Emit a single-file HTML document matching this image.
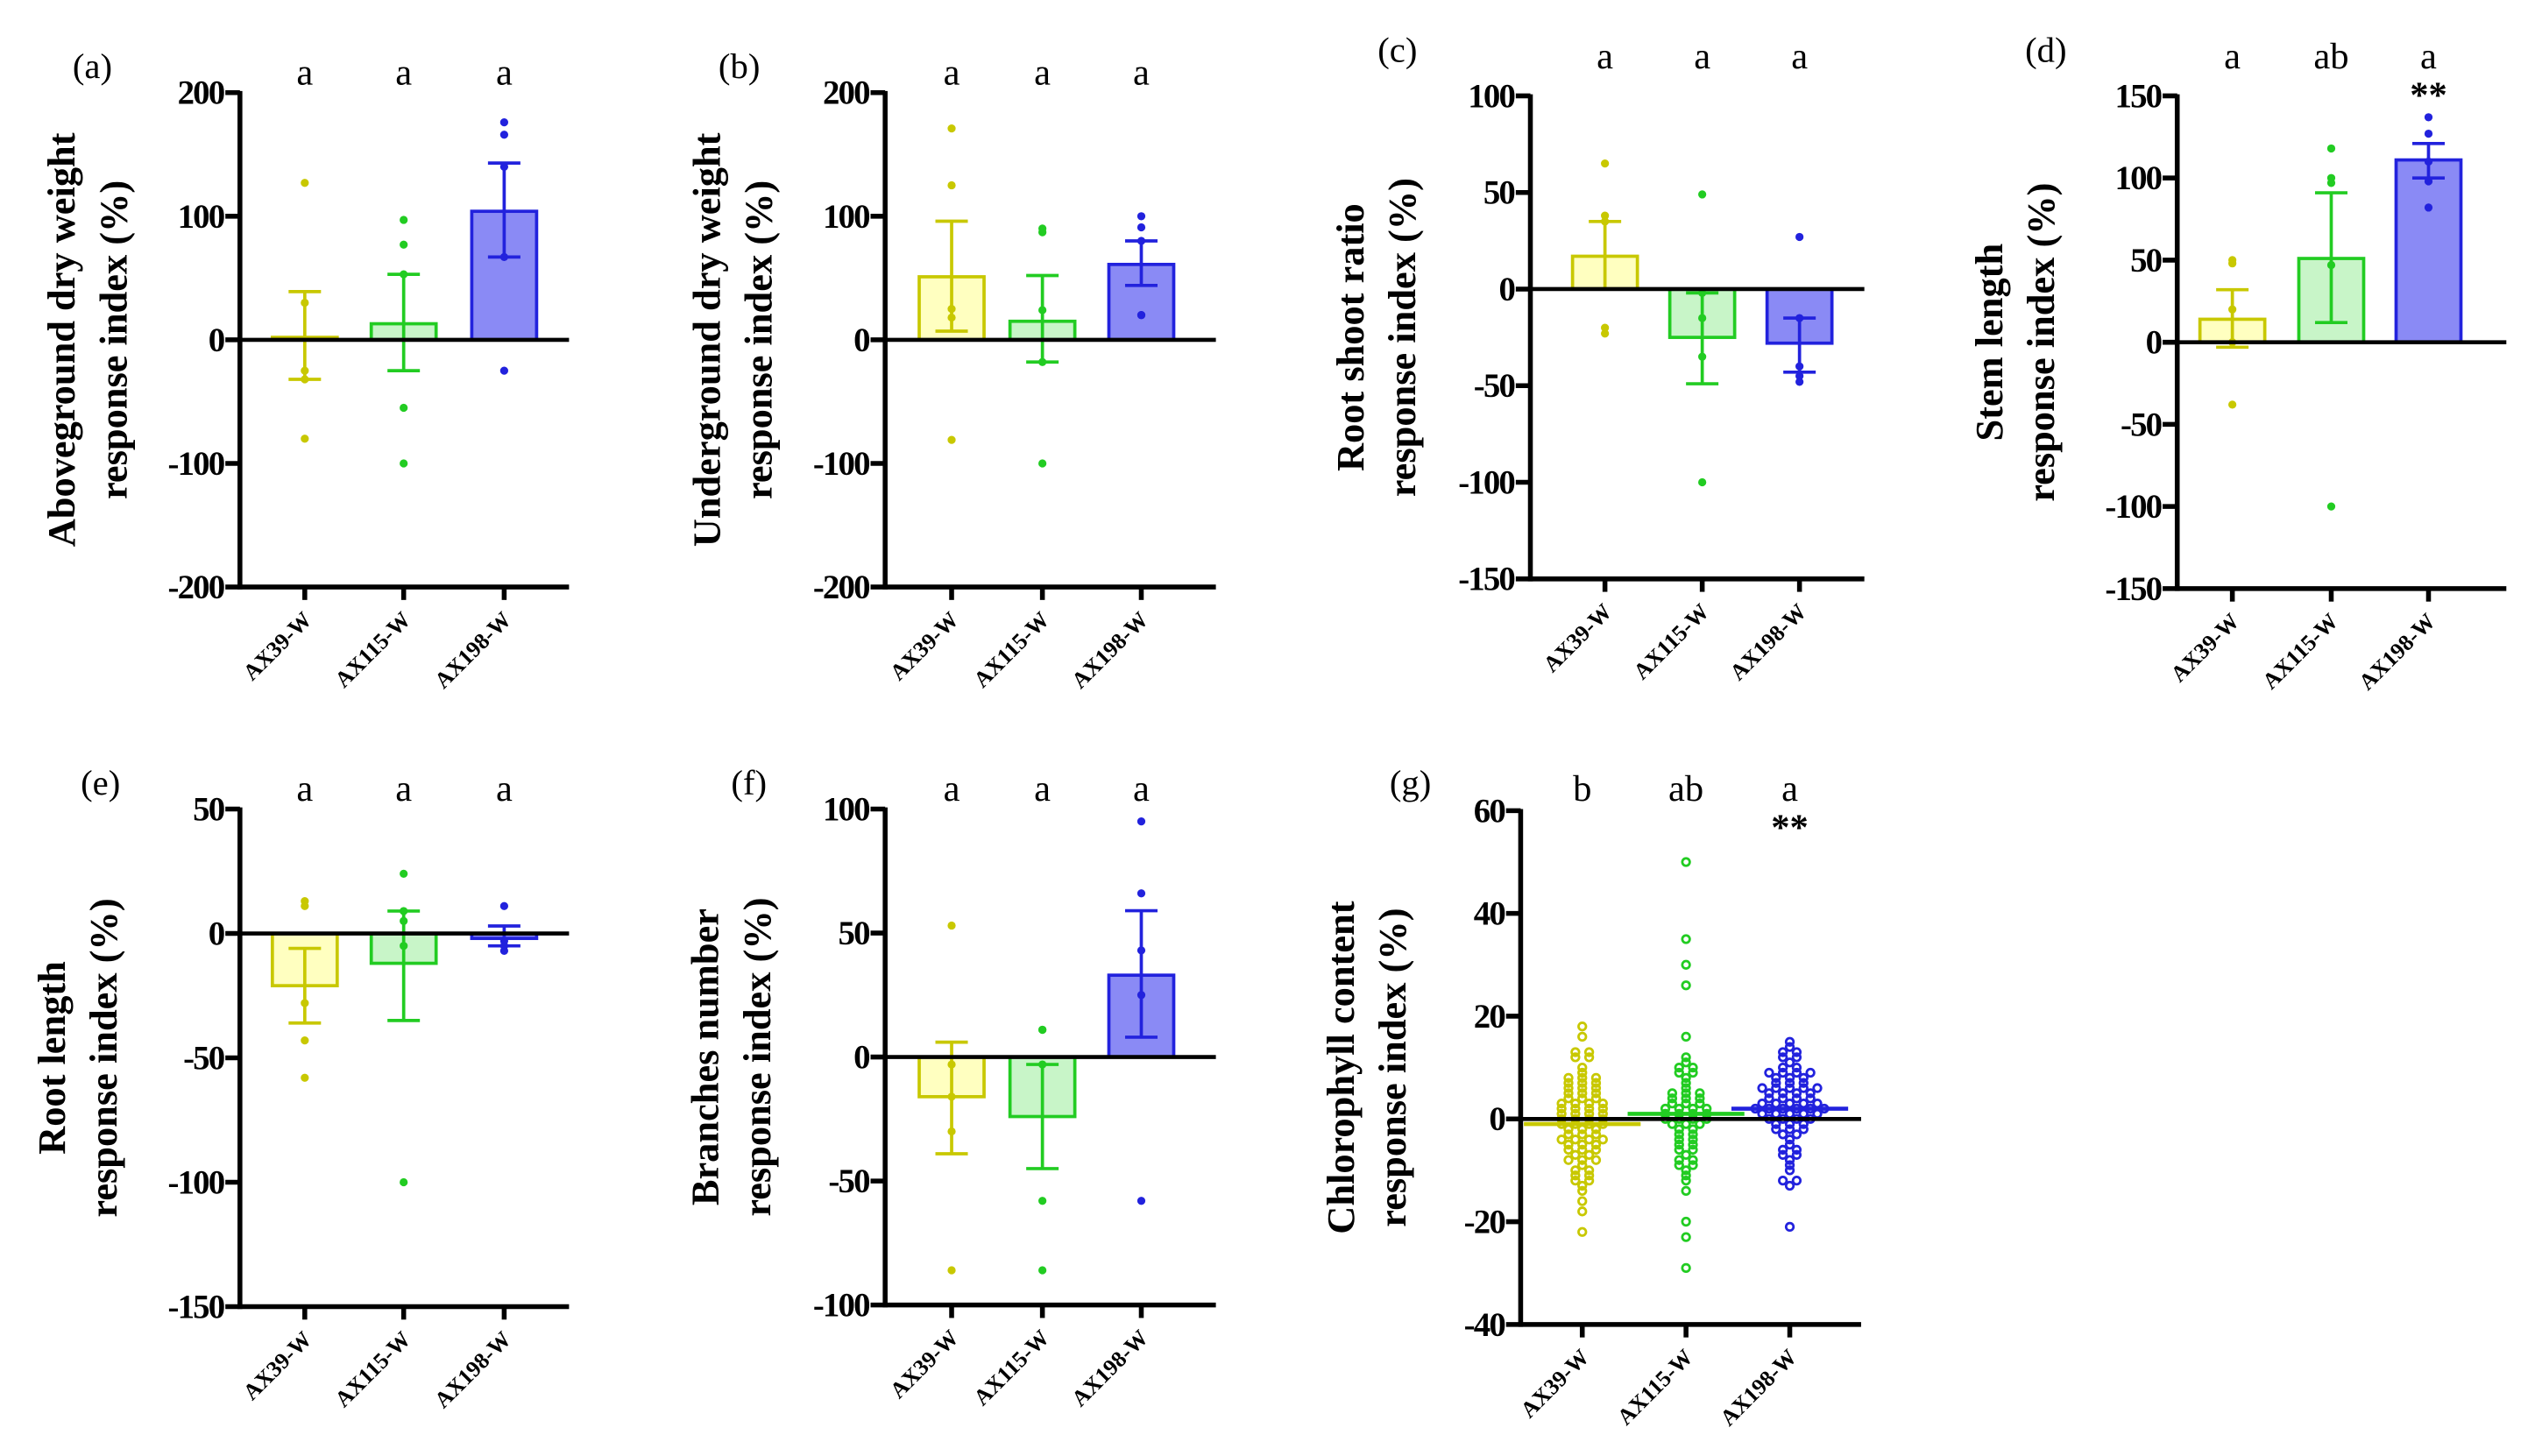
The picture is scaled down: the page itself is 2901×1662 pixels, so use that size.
<!DOCTYPE html>
<html><head><meta charset="utf-8"><style>
html,body{margin:0;padding:0;background:#fff}
svg{display:block}
text{font-family:"Liberation Serif",serif}
</style></head><body>
<svg id="fig" width="2901" height="1662" viewBox="0 0 1568 898" xmlns="http://www.w3.org/2000/svg"></svg>
<script>
const categories = ["AX39-W","AX115-W","AX198-W"];
// panel a
const aMeans=[2,13,104], aErrHi=[39,53,143], aErrLo=[-32,-25,67];
const aPts=[[127,30,-25,-32,-80],[97,77,53,-55,-100],[176,166,140,67,-25]];
const aLetters=["a","a","a"];
// panel b
const bMeans=[51,15,61], bErrHi=[96,52,80], bErrLo=[7,-18,44];
const bPts=[[171,125,25,18,-81],[90,87,24,-18,-100],[100,91,80,20,20]];
const bLetters=["a","a","a"];
// panel c
const cMeans=[17,-25,-28], cErrHi=[35,-2,-15], cErrLo=[0,-49,-43];
const cPts=[[65,38,35,-20,-23],[49,-2,-15,-35,-100],[27,-15,-40,-45,-48]];
const cLetters=["a","a","a"];
// panel d
const dMeans=[14,51,111], dErrHi=[32,91,121], dErrLo=[-3,12,100];
const dPts=[[50,48,20,0,-38],[118,100,97,47,-100],[137,127,110,98,82]];
const dLetters=["a","ab","a"];
// panel e
const eMeans=[-21,-12,-2], eErrHi=[-6,9,3], eErrLo=[-36,-35,-5];
const ePts=[[13,11,-28,-43,-58],[24,9,5,-5,-100],[11,-5,-7,-3]];
const eLetters=["a","a","a"];
// panel f
const fMeans=[-16,-24,33], fErrHi=[6,-3,59], fErrLo=[-39,-45,8];
const fPts=[[53,-3,-16,-30,-86],[11,11,-3,-58,-86],[95,66,43,25,-58]];
const fLetters=["a","a","a"];
// panel g
const gMeans=[-1,1,2];
const gPts=[
[18,16,13,13,12,12,10,9,8,8,8,7,7,7,6,6,6,5,5,5,4,4,4,3,3,3,3,2,2,2,2,1,1,1,1,0,0,0,0,-1,-1,-1,-1,-2,-2,-2,-3,-3,-3,-4,-4,-4,-4,-5,-5,-5,-6,-6,-6,-7,-7,-8,-8,-8,-9,-10,-10,-11,-11,-12,-12,-13,-14,-16,-18,-22],
[50,35,30,26,16,12,11,10,10,9,9,8,7,6,5,5,5,4,4,4,3,3,3,2,2,2,2,1,1,1,1,0,0,0,0,-1,-1,-1,-2,-2,-3,-3,-4,-4,-5,-5,-6,-6,-7,-8,-8,-9,-9,-10,-11,-12,-14,-20,-23,-29],
[15,14,13,13,12,12,11,10,10,9,9,9,9,8,8,8,7,7,7,6,6,6,6,6,5,5,5,5,4,4,4,4,3,3,3,3,3,2,2,2,2,2,2,1,1,1,1,1,0,0,0,0,-1,-1,-1,-2,-2,-2,-3,-3,-4,-5,-6,-6,-7,-7,-8,-9,-10,-12,-12,-13,-21]];
const gLetters=["b","ab","a"];

const NS="http://www.w3.org/2000/svg";
const svg=document.getElementById('fig');
const strokes=["#c8c800","#22cc22","#2222dd"], fills=["#ffffc0","#c8f5c8","#8a8af5"];
function mk(tag,attrs,parent,txt){const e=document.createElementNS(NS,tag);for(const k in attrs)e.setAttribute(k,attrs[k]);if(txt!==undefined)e.textContent=txt;(parent||svg).appendChild(e);return e;}

function panel(o){
  const g=mk('g',{});
  
  
  const y=v=>o.yTop+(o.ticks[0]-v)*(o.yBot-o.yTop)/(o.ticks[0]-o.ticks[o.ticks.length-1]);
  const cx=i=>o.ax+o.cOff[i];
  if(o.means&&!o.swarm){
    o.means.forEach((m,i)=>{
      const r=mk('rect',{x:cx(i)-20,y:Math.min(y(m),y(0)),width:40,height:Math.abs(y(m)-y(0)),fill:fills[i],stroke:strokes[i],'stroke-width':2},g);
      
      
    });
  }
  o.pts.forEach((arr,i)=>{
    if(o.swarm){
      const cnt={};
      arr.forEach(v=>{const k=Math.round(v);cnt[k]=(cnt[k]||0)+1;});
      const idx={};
      arr.forEach(v=>{const k=Math.round(v);idx[k]=(idx[k]||0);const n=cnt[k],j=idx[k]++;
        const off=(j-(n-1)/2)*8.5;
        const c=mk('circle',{cx:cx(i)+off,cy:y(v),r:2.3,fill:'none',stroke:strokes[i],'stroke-width':1.5},g);
        
        
      });
    } else {
      arr.forEach((v,j)=>{
        const c=mk('circle',{cx:cx(i),cy:y(v),r:2,fill:strokes[i],stroke:strokes[i],'stroke-width':1},g);
        
        
      });
    }
  });
  if(o.hi){
    o.hi.forEach((h,i)=>{
      const lo=o.lo[i];
      mk('line',{x1:cx(i),x2:cx(i),y1:y(h),y2:y(lo),stroke:strokes[i],'stroke-width':2},g);
      mk('line',{x1:cx(i)-10,x2:cx(i)+10,y1:y(h),y2:y(h),stroke:strokes[i],'stroke-width':2},g);
      const e=mk('line',{x1:cx(i)-10,x2:cx(i)+10,y1:y(lo),y2:y(lo),stroke:strokes[i],'stroke-width':2},g);
      
      
    });
  }
  if(o.swarm){
    o.means.forEach((m,i)=>{mk('line',{x1:cx(i)-36,x2:cx(i)+36,y1:y(m),y2:y(m),stroke:strokes[i],'stroke-width':2.5},g);});
  }
  mk('line',{x1:o.ax,x2:o.ax,y1:o.yTop-1,y2:o.yBot+1.5,stroke:'#000','stroke-width':3},g);
  mk('line',{x1:o.ax,x2:o.xEnd,y1:o.yBot,y2:o.yBot,stroke:'#000','stroke-width':3},g);
  mk('line',{x1:o.ax,x2:o.xEnd,y1:y(0),y2:y(0),stroke:'#000','stroke-width':2.5},g);
  o.ticks.forEach(t=>{
    mk('line',{x1:o.ax-9,x2:o.ax,y1:y(t),y2:y(t),stroke:'#000','stroke-width':3},g);
    const tl=mk('text',{x:o.ax-10,y:y(t)+7,'text-anchor':'end','font-size':21,'font-weight':'bold','letter-spacing':-1},g,String(t));
    
    
  });
  categories.forEach((c,i)=>{
    mk('line',{x1:cx(i),x2:cx(i),y1:o.yBot,y2:o.yBot+8,stroke:'#000','stroke-width':3},g);
    const xl=mk('text',{x:cx(i)+5,y:o.yBot+21,'text-anchor':'end','font-size':14,'font-weight':'bold',transform:`rotate(-45 ${cx(i)+5} ${o.yBot+21})`},g,c);
    
    
    const lt=mk('text',{x:cx(i),y:o.letterY,'text-anchor':'middle','font-size':23},g,o.letters[i]);
    
    
  });
  if(o.star){const s=mk('text',{x:cx(2),y:o.letterY+24,'text-anchor':'middle','font-size':23,'font-weight':'bold'},g,'**');
    
    }
  const pl=mk('text',{x:o.labelX,y:o.letterY-4,'text-anchor':'middle','font-size':22},g,'('+o.id+')');
  
  
  const cy=(o.yTop+o.yBot)/2;
  const t1=mk('text',{x:o.ax-o.t1,y:cy,'text-anchor':'middle','font-size':24,'font-weight':'bold',transform:`rotate(-90 ${o.ax-o.t1} ${cy})`,'xml:space':'preserve'},g,o.title);
  
  
  const t2=mk('text',{x:o.ax-o.t1+32,y:cy,'text-anchor':'middle','font-size':24,'font-weight':'bold',transform:`rotate(-90 ${o.ax-o.t1+32} ${cy})`},g,'response index (%)');
  
  
}
const off=[40,101,163];
panel({id:'a',ax:148,xEnd:351,yTop:57,yBot:362,ticks:[200,100,0,-100,-200],cOff:off,means:aMeans,hi:aErrHi,lo:aErrLo,pts:aPts,letters:aLetters,letterY:52,labelX:57,title:'Aboveground  dry weight',t1:102});
panel({id:'b',ax:546,xEnd:750,yTop:57,yBot:362,ticks:[200,100,0,-100,-200],cOff:[41,97,158],means:bMeans,hi:bErrHi,lo:bErrLo,pts:bPts,letters:bLetters,letterY:52,labelX:456,title:'Underground  dry weight',t1:102});
panel({id:'c',ax:944,xEnd:1150,yTop:59,yBot:357,ticks:[100,50,0,-50,-100,-150],cOff:[46,106,166],means:cMeans,hi:cErrHi,lo:cErrLo,pts:cPts,letters:cLetters,letterY:42,labelX:862,title:'Root shoot ratio',t1:103});
panel({id:'d',ax:1343,xEnd:1546,yTop:59,yBot:363,ticks:[150,100,50,0,-50,-100,-150],cOff:[34,95,155],means:dMeans,hi:dErrHi,lo:dErrLo,pts:dPts,letters:dLetters,letterY:42,labelX:1262,star:true,title:'Stem length',t1:108});
panel({id:'e',ax:148,xEnd:351,yTop:499,yBot:806,ticks:[50,0,-50,-100,-150],cOff:off,means:eMeans,hi:eErrHi,lo:eErrLo,pts:ePts,letters:eLetters,letterY:494,labelX:62,title:'Root length',t1:108});
panel({id:'f',ax:546,xEnd:750,yTop:499,yBot:805,ticks:[100,50,0,-50,-100],cOff:[41,97,158],means:fMeans,hi:fErrHi,lo:fErrLo,pts:fPts,letters:fLetters,letterY:494,labelX:462,title:'Branches number',t1:103});
panel({id:'g',ax:938,xEnd:1148,yTop:500,yBot:817,ticks:[60,40,20,0,-20,-40],cOff:[38,102,166],means:gMeans,pts:gPts,swarm:true,letters:gLetters,letterY:494,labelX:870,star:true,title:'Chlorophyll content',t1:103});
</script>
</body></html>
